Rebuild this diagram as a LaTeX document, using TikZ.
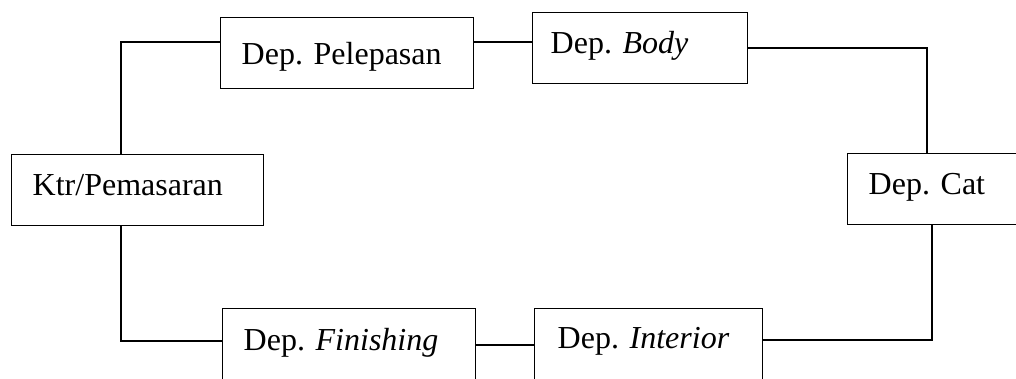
\documentclass[tikz,border=0pt]{standalone}
\usepackage{fontspec}
\setmainfont{Liberation Serif}
\usetikzlibrary{calc}
\frenchspacing
\tikzset{
  dbox/.style={draw, line width=1.4pt, anchor=north west, inner xsep=21pt, inner ysep=0pt,
    align=left, font=\rmfamily\fontsize{32}{36}\selectfont, text height=41pt, text depth=30pt},
  conn/.style={line width=1.4pt}
}
\begin{document}
\begin{tikzpicture}[x=1pt,y=1pt]
\useasboundingbox (0,0) rectangle (1016,379);
\clip (0,0) rectangle (1016,379);
\node[dbox, text width=211pt, text height=47pt, text depth=24pt] (p) at (220,362) {Dep.\ Pelepasan};
\node[dbox, text width=173pt, inner xsep=18pt, text width=179pt] (b) at (532,367) {Dep.\ \textit{Body}};
\node[dbox, text width=210pt] (k) at (11,225) {Ktr/Pemasaran};
\node[dbox, text width=158pt] (c) at (847,226) {Dep.\ Cat};
\node[dbox, text width=211pt, text height=42pt, text depth=50pt] (f) at (222,71) {Dep.\ \textit{Finishing}};
\node[dbox, text width=182pt, inner xsep=23pt, text height=40pt, text depth=52pt] (i) at (534,71) {Dep.\ \textit{Interior}};
\draw[conn] ($(k.north west)+(110,0)$) |- ($(p.north west)+(0,-25)$);
\draw[conn] ($(p.north east)+(0,-25)$) -- ($(b.west |- p.north east)+(0,-25)$);
\draw[conn] ($(b.north east)+(0,-36)$) -| ($(c.north west)+(80,0)$);
\draw[conn] ($(c.south west)+(85,0)$) |- ($(i.north east)+(0,-32)$);
\draw[conn] ($(i.north west)+(0,-37)$) -- ($(f.east |- i.north west)+(0,-37)$);
\draw[conn] ($(f.north west)+(0,-33)$) -| ($(k.south west)+(110,0)$);
\end{tikzpicture}
\end{document}
